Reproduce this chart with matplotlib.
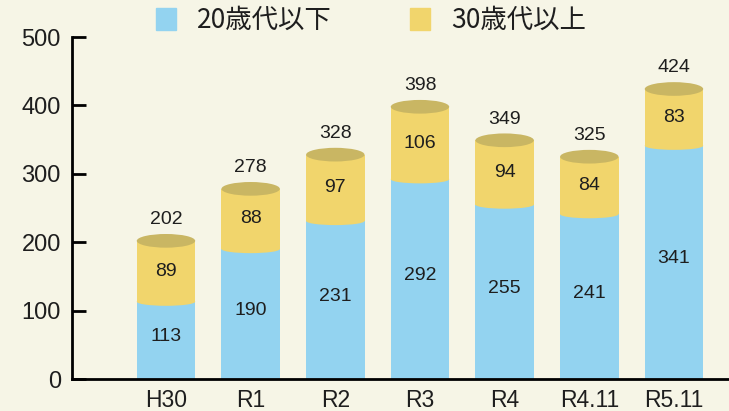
import matplotlib.pyplot as plt
from matplotlib.patches import Ellipse

plt.rcParams['font.family'] = ['Liberation Sans', 'Noto Sans CJK JP', 'DejaVu Sans']

categories = ['H30', 'R1', 'R2', 'R3', 'R4', 'R4.11', 'R5.11']
under20s = [113, 190, 231, 292, 255, 241, 341]
over30s = [89, 88, 97, 106, 94, 84, 83]
totals = [202, 278, 328, 398, 349, 325, 424]

blue = '#93d3f0'
yellow = '#f1d56c'
top_col = '#c9b663'
bg = '#f6f5e6'
txt = '#1e1e1e'

fig = plt.figure(figsize=(7.29, 4.11), dpi=100, facecolor=bg)
ax = fig.add_axes([72/729, 32/411, 657/729, 342/411])
ax.set_facecolor(bg)

w = 0.69
x = list(range(len(categories)))

ax.bar(x, under20s, width=w, color=blue, zorder=2)
ax.bar(x, over30s, width=w, bottom=under20s, color=yellow, zorder=2)
for i in x:
    # curved joint between the two parts, and the cylinder lid
    ax.add_patch(Ellipse((i, under20s[i]), w, 12, color=yellow, zorder=3, lw=0))
    ax.add_patch(Ellipse((i, totals[i]), w, 20, color=top_col, zorder=4, lw=0))
    ax.text(i, under20s[i] / 2 + 5, str(under20s[i]), ha='center', va='center', fontsize=14, color=txt, zorder=5)
    ax.text(i, under20s[i] + over30s[i] / 2, str(over30s[i]), ha='center', va='center', fontsize=14, color=txt, zorder=5)
    ax.text(i, totals[i] + 31, str(totals[i]), ha='center', va='center', fontsize=14, color=txt, zorder=5)

ax.set_xlim(-1.11, 6.65)
ax.set_ylim(0, 500)
ax.set_yticks([0, 100, 200, 300, 400, 500])
ax.set_xticks(x)
ax.set_xticklabels(categories, fontsize=16.5, color=txt)
ax.tick_params(axis='y', direction='in', length=10, width=2, labelsize=17, pad=8, labelcolor=txt)
ax.tick_params(axis='x', length=0, pad=7)
for s in ['top', 'right']:
    ax.spines[s].set_visible(False)
ax.spines['left'].set_linewidth(2)
ax.spines['bottom'].set_linewidth(2)

# legend
fig.patches.append(plt.Rectangle((156/729, 1 - 30/411), 20/729, 22/411, transform=fig.transFigure, color=blue))
fig.text(197/729, 1 - 20/411, '20歳代以下', fontsize=19, va='center', family=['Noto Sans CJK JP'], color=txt)
fig.patches.append(plt.Rectangle((410/729, 1 - 30/411), 20/729, 22/411, transform=fig.transFigure, color=yellow))
fig.text(451/729, 1 - 20/411, '30歳代以上', fontsize=19, va='center', family=['Noto Sans CJK JP'], color=txt)

fig.savefig('out.png', dpi=100, facecolor=bg)
